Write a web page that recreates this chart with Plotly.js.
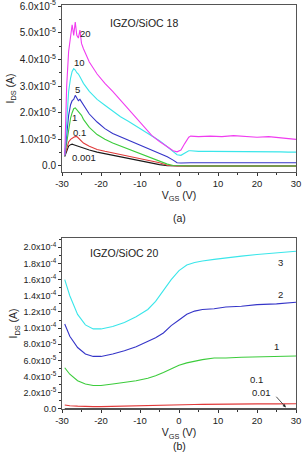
<!DOCTYPE html>
<html>
<head>
<meta charset="utf-8">
<script src="https://cdn.plot.ly/plotly-3.0.1.min.js"></script>
<style>
  html, body { margin: 0; padding: 0; background: #fff; }
  #chart { width: 304px; height: 459px; }
</style>
</head>
<body>
<div id="chart"></div>
<script>
// ---- Panel (a): IGZO/SiOC 18, I_DS in units of 1e-5 A ----
const vgsA = [-29.3, -28.8, -28.3, -27.8, -27.4, -27.0, -26.6, -26.2, -25.8, -25.4, -25.0, -24.5,
  -23, -21, -19, -17, -15, -13, -11, -9, -7, -5, -3,
  -1.5, -0.5, 0.5, 1.5, 2.5, 3, 5, 8, 11, 14, 17, 20, 23, 26, 28, 30];
const idsA20 = [0.4, 3.0, 4.3, 4.8, 5.3, 4.9, 5.4, 4.9, 4.8, 5.1, 4.6, 4.4,
  3.9, 3.45, 3.1, 2.8, 2.47, 2.1, 1.78, 1.45, 1.15, 0.92, 0.72,
  0.57, 0.53, 0.6, 0.85, 1.08, 1.12, 1.1, 1.12, 1.1, 1.14, 1.1, 1.08, 1.1, 1.06, 1.05, 1.0];
const idsA10 = [0.4, 1.8, 2.8, 3.3, 3.55, 3.65, 3.6, 3.5, 3.45, 3.35, 3.25, 3.1,
  2.8, 2.5, 2.28, 2.05, 1.85, 1.68, 1.5, 1.32, 1.14, 0.95, 0.72,
  0.55, 0.42, 0.4, 0.5, 0.57, 0.57, 0.55, 0.55, 0.55, 0.54, 0.54, 0.53, 0.53, 0.53, 0.52, 0.52];
const idsA5 = [0.4, 1.2, 1.9, 2.3, 2.45, 2.5, 2.65, 2.55, 2.45, 2.5, 2.4, 2.3,
  1.95, 1.65, 1.4, 1.22, 1.1, 0.98, 0.85, 0.74, 0.62, 0.5, 0.35,
  0.22, 0.12, 0.11, 0.12, 0.12, 0.12, 0.12, 0.12, 0.12, 0.12, 0.12, 0.12, 0.12, 0.12, 0.12, 0.12];
const idsA1 = [0.4, 0.9, 1.4, 1.8, 2.0, 2.15, 2.18, 2.1, 2.05, 1.98, 1.9, 1.75,
  1.45, 1.18, 1.0, 0.86, 0.75, 0.64, 0.53, 0.43, 0.32, 0.2, 0.07,
  0.02, 0.01, 0.0, 0.0, 0.0, 0.0, 0.0, 0.0, 0.0, 0.0, 0.0, 0.0, 0.0, 0.0, 0.0, 0.0];
const idsA01 = [0.4, 0.7, 0.9, 1.0, 1.05, 1.08, 1.1, 1.1, 1.05, 0.98, 0.92, 0.86,
  0.74, 0.62, 0.55, 0.49, 0.43, 0.37, 0.31, 0.25, 0.19, 0.12, 0.03,
  0.0, 0.0, 0.0, 0.0, 0.0, 0.0, 0.0, 0.0, 0.0, 0.0, 0.0, 0.0, 0.0, 0.0, 0.0, 0.0];
const idsA0001 = [0.35, 0.6, 0.75, 0.8, 0.82, 0.8, 0.78, 0.75, 0.73, 0.71, 0.69, 0.66,
  0.6, 0.52, 0.46, 0.4, 0.35, 0.29, 0.23, 0.17, 0.11, 0.05, 0.01,
  0.0, 0.0, 0.0, 0.0, 0.0, 0.0, 0.0, 0.0, 0.0, 0.0, 0.0, 0.0, 0.0, 0.0, 0.0, 0.0];
const unitA = 1e-5;
const tickValsA = [0, 1, 2, 3, 4, 5, 6];
const tickTextA = ['0.0', '1.0x10<sup>-5</sup>', '2.0x10<sup>-5</sup>', '3.0x10<sup>-5</sup>',
  '4.0x10<sup>-5</sup>', '5.0x10<sup>-5</sup>', '6.0x10<sup>-5</sup>'];
const seriesLabelsA = ['20', '10', '5', '1', '0.1', '0.001'];

// ---- Panel (b): IGZO/SiOC 20, I_DS in units of 1e-4 A ----
const vgsB = [-29.3, -28, -26, -24, -22, -20, -17, -14, -11, -8, -6, -4, -2, 0, 2, 4, 6, 9, 12, 16, 20, 25, 30];
const idsB3 = [1.6, 1.4, 1.17, 1.04, 0.99, 0.99, 1.02, 1.07, 1.14, 1.23, 1.33, 1.46, 1.6, 1.71, 1.78, 1.81, 1.83, 1.85, 1.87, 1.89, 1.91, 1.93, 1.95];
const idsB2 = [1.05, 0.9, 0.76, 0.68, 0.65, 0.65, 0.68, 0.72, 0.77, 0.83, 0.88, 0.94, 1.03, 1.1, 1.17, 1.21, 1.23, 1.24, 1.26, 1.27, 1.29, 1.3, 1.32];
const idsB1 = [0.51, 0.43, 0.35, 0.31, 0.29, 0.29, 0.31, 0.33, 0.35, 0.38, 0.41, 0.45, 0.5, 0.54, 0.57, 0.59, 0.61, 0.63, 0.63, 0.64, 0.645, 0.65, 0.655];
const idsB01 = [0.05, 0.04, 0.035, 0.03, 0.03, 0.03, 0.032, 0.034, 0.036, 0.04, 0.042, 0.045, 0.048, 0.05, 0.053, 0.055, 0.057, 0.06, 0.06, 0.062, 0.063, 0.064, 0.065];
const idsB001 = [0.003, 0.003, 0.003, 0.003, 0.003, 0.003, 0.003, 0.003, 0.003, 0.003, 0.003, 0.003, 0.003, 0.003, 0.003, 0.003, 0.003, 0.003, 0.003, 0.003, 0.003, 0.003, 0.003];
const unitB = 1e-4;
const tickValsB = [0, 0.2, 0.4, 0.6, 0.8, 1.0, 1.2, 1.4, 1.6, 1.8, 2.0];
const tickTextB = ['0.0', '2.0x10<sup>-5</sup>', '4.0x10<sup>-5</sup>', '6.0x10<sup>-5</sup>', '8.0x10<sup>-5</sup>',
  '1.0x10<sup>-4</sup>', '1.2x10<sup>-4</sup>', '1.4x10<sup>-4</sup>', '1.6x10<sup>-4</sup>', '1.8x10<sup>-4</sup>', '2.0x10<sup>-4</sup>'];

const xTicks = [-30, -20, -10, 0, 10, 20, 30];

const colMagenta = '#f03cf0';
const colCyan = '#3ae6ea';
const colBlue = '#3535c8';
const colGreen = '#3ccc3c';
const colRed = '#e03a3a';
const colBlack = '#1a1a1a';

const scale = (arr, u) => arr.map(v => v * u);
const line = (x, y, color, xa, ya) => ({
  x: x, y: y, type: 'scatter', mode: 'lines', xaxis: xa, yaxis: ya,
  line: { color: color, width: 1.1 }, hoverinfo: 'skip', showlegend: false
});

const traces = [
  line(vgsA, scale(idsA0001, unitA), colBlack, 'x', 'y'),
  line(vgsA, scale(idsA01, unitA), colRed, 'x', 'y'),
  line(vgsA, scale(idsA1, unitA), colGreen, 'x', 'y'),
  line(vgsA, scale(idsA5, unitA), colBlue, 'x', 'y'),
  line(vgsA, scale(idsA10, unitA), colCyan, 'x', 'y'),
  line(vgsA, scale(idsA20, unitA), colMagenta, 'x', 'y'),
  line(vgsB, scale(idsB001, unitB), colBlack, 'x2', 'y2'),
  line(vgsB, scale(idsB01, unitB), colRed, 'x2', 'y2'),
  line(vgsB, scale(idsB1, unitB), colGreen, 'x2', 'y2'),
  line(vgsB, scale(idsB2, unitB), colBlue, 'x2', 'y2'),
  line(vgsB, scale(idsB3, unitB), colCyan, 'x2', 'y2')
];

const font = 'Liberation Sans, Arial, sans-serif';
const txt = '#222';

const xAxis = (domainAnchor) => ({
  anchor: domainAnchor, range: [-30, 30], tickvals: xTicks, ticktext: xTicks.map(String),
  ticks: 'outside', ticklen: 3, tickwidth: 1, tickcolor: '#333',
  minor: { dtick: 5, ticks: 'outside', ticklen: 2, tickcolor: '#333' },
  showgrid: false, zeroline: false, showline: true, linecolor: '#555', linewidth: 1, mirror: true,
  ticklabeloverflow: 'allow',
  tickfont: { family: font, size: 9.5, color: txt },
  title: { text: 'V<sub>GS</sub> (V)', font: { family: font, size: 10.5, color: txt }, standoff: 2 }
});

const yAxis = (domain, range, vals, text, anchor, minorStep, fs) => ({
  domain: domain, anchor: anchor, range: range, tickvals: vals, ticktext: text,
  ticks: 'outside', ticklen: 3, tickwidth: 1, tickcolor: '#333',
  minor: { dtick: minorStep, ticks: 'outside', ticklen: 2, tickcolor: '#333' },
  showgrid: false, zeroline: false, showline: true, linecolor: '#555', linewidth: 1, mirror: true,
  ticklabeloverflow: 'allow',
  tickfont: { family: font, size: fs, color: txt },
  title: { text: 'I<sub>DS</sub> (A)', font: { family: font, size: 10.5, color: txt }, standoff: 3 }
});

const ann = (x, y, text, xr, yr, size) => ({
  x: x, y: y, xref: xr, yref: yr, text: text, showarrow: false,
  font: { family: font, size: size || 9.5, color: txt }
});

const labelPosA = [[-23.85, 4.98], [-25.6, 3.87], [-26.1, 2.87], [-26.7, 1.82], [-25.6, 1.25], [-24.4, 0.33]];

const annotations = [
  ann(-9.1, 5.37 * unitA, 'IGZO/SiOC 18', 'x', 'y', 10.5),
  ann(-14.1, 1.93 * unitB, 'IGZO/SiOC 20', 'x2', 'y2', 10.5),
  ann(25.9, 1.81 * unitB, '3', 'x2', 'y2'),
  ann(25.9, 1.41 * unitB, '2', 'x2', 'y2'),
  ann(25.0, 0.775 * unitB, '1', 'x2', 'y2'),
  ann(19.9, 0.36 * unitB, '0.1', 'x2', 'y2'),
  ann(21.2, 0.2 * unitB, '0.01', 'x2', 'y2'),
  { x: 27.4, y: 0.02 * unitB, ax: 24.6, ay: 0.17 * unitB, xref: 'x2', yref: 'y2', axref: 'x2', ayref: 'y2',
    text: '', showarrow: true, arrowhead: 2, arrowsize: 0.8, arrowwidth: 0.8, arrowcolor: '#222' },
  ann(0.5, 0.473, '(a)', 'paper', 'paper', 10.5),
  ann(0.5, -0.112, '(b)', 'paper', 'paper', 10.5)
].concat(seriesLabelsA.map((t, i) => ann(labelPosA[i][0], labelPosA[i][1] * unitA, t, 'x', 'y')));

const layout = {
  width: 304, height: 459,
  margin: { l: 62, r: 8, t: 5, b: 50 },
  paper_bgcolor: '#fff', plot_bgcolor: '#fff',
  showlegend: false,
  xaxis: xAxis('y'),
  yaxis: yAxis([0.587, 1], [-0.22 * unitA, 6.04 * unitA], tickValsA.map(v => v * unitA), tickTextA, 'x', 0.5 * unitA, 10),
  xaxis2: xAxis('y2'),
  yaxis2: yAxis([0, 0.4237], [0, 2.116 * unitB], tickValsB.map(v => v * unitB), tickTextB, 'x2', 0.1 * unitB, 9),
  annotations: annotations
};

Plotly.newPlot('chart', traces, layout, { staticPlot: true, displayModeBar: false });
</script>
</body>
</html>
